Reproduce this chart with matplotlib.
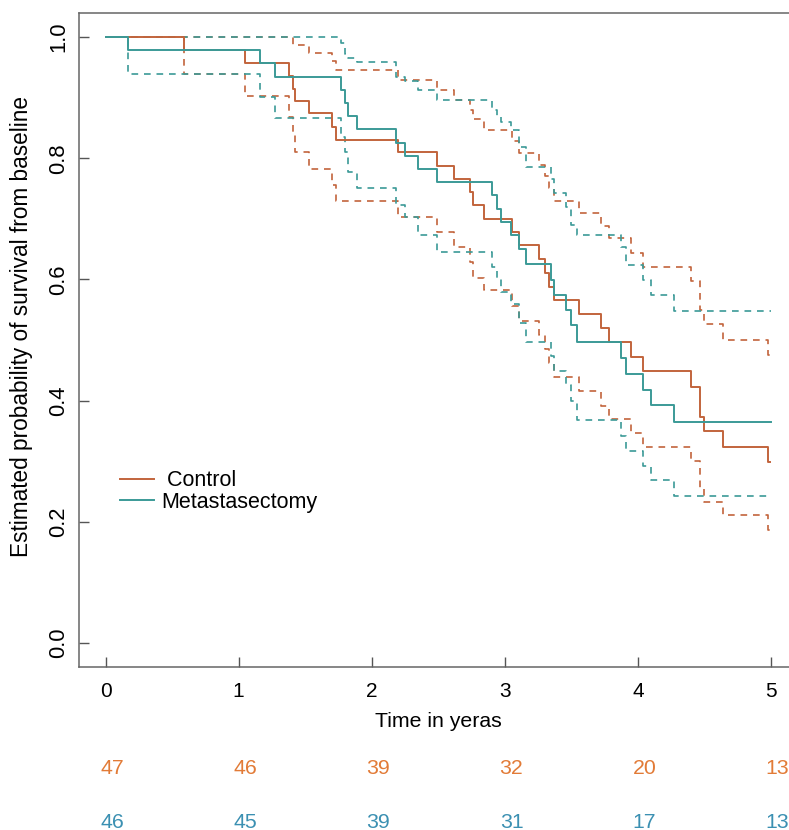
import numpy as np
import matplotlib.pyplot as plt
import matplotlib.transforms as mtransforms

plt.rcParams['font.family'] = ['Liberation Sans', 'DejaVu Sans']

# ---> Kaplan-Meier estimates
ctrl_t = [0, 0.59, 1.045, 1.376, 1.41, 1.42, 1.53, 1.70, 1.73, 2.20, 2.49, 2.62,
          2.74, 2.76, 2.84, 3.055, 3.11, 3.26, 3.30, 3.33, 3.37, 3.56, 3.72, 3.78,
          3.95, 4.04, 4.40, 4.47, 4.50, 4.64, 4.98, 4.995]
ctrl_s = [1.0, 0.979, 0.958, 0.936, 0.915, 0.895, 0.874, 0.852, 0.831, 0.810, 0.788, 0.766,
          0.744, 0.723, 0.700, 0.679, 0.656, 0.634, 0.610, 0.588, 0.566, 0.543, 0.519, 0.496,
          0.472, 0.449, 0.423, 0.373, 0.350, 0.324, 0.298, 0.298]
ctrl_lo = [1.0, 0.939, 0.903, 0.868, 0.840, 0.811, 0.783, 0.756, 0.729, 0.703, 0.679, 0.653,
           0.628, 0.603, 0.582, 0.556, 0.532, 0.508, 0.485, 0.462, 0.439, 0.416, 0.391, 0.369,
           0.346, 0.323, 0.300, 0.256, 0.232, 0.211, 0.186, 0.186]
ctrl_hi = [1.0, 1.0, 1.0, 1.0, 0.987, 0.987, 0.974, 0.960, 0.946, 0.930, 0.913, 0.896,
           0.880, 0.865, 0.847, 0.828, 0.809, 0.789, 0.770, 0.751, 0.730, 0.710, 0.688, 0.668,
           0.644, 0.621, 0.598, 0.550, 0.526, 0.500, 0.475, 0.475]

meta_t = [0, 0.17, 1.16, 1.27, 1.77, 1.80, 1.82, 1.89, 2.185, 2.25, 2.35, 2.49,
          2.90, 2.94, 2.97, 3.05, 3.11, 3.16, 3.35, 3.37, 3.46, 3.50, 3.54, 3.87,
          3.91, 4.04, 4.10, 4.27, 5.0]
meta_s = [1.0, 0.978, 0.957, 0.935, 0.913, 0.891, 0.870, 0.848, 0.826, 0.804, 0.783, 0.761,
          0.739, 0.717, 0.695, 0.673, 0.651, 0.625, 0.599, 0.574, 0.549, 0.524, 0.497, 0.470,
          0.444, 0.418, 0.392, 0.365, 0.365]
meta_lo = [1.0, 0.939, 0.901, 0.867, 0.835, 0.811, 0.778, 0.751, 0.723, 0.703, 0.673, 0.646,
           0.621, 0.600, 0.580, 0.560, 0.528, 0.497, 0.473, 0.448, 0.426, 0.400, 0.368, 0.342,
           0.317, 0.292, 0.268, 0.243, 0.243]
meta_hi = [1.0, 1.0, 1.0, 1.0, 0.990, 0.973, 0.965, 0.959, 0.935, 0.928, 0.913, 0.896,
           0.880, 0.868, 0.860, 0.847, 0.819, 0.786, 0.765, 0.743, 0.720, 0.690, 0.673, 0.653,
           0.624, 0.599, 0.574, 0.548, 0.548]

risk_times = [0, 1, 2, 3, 4, 5]
ctrl_risk = [47, 46, 39, 32, 20, 13]
meta_risk = [46, 45, 39, 31, 17, 13]

c_ctrl = '#c2643c'
c_meta = '#3b9a97'
c_ctrl_txt = '#e27b37'
c_meta_txt = '#3b90b2'

fig = plt.figure(figsize=(7.89, 8.3), dpi=100)
ax = fig.add_axes([0.1001, 0.1964, 0.9108, 0.788])

for t, s, lo, hi, c in [(ctrl_t, ctrl_s, ctrl_lo, ctrl_hi, c_ctrl),
                        (meta_t, meta_s, meta_lo, meta_hi, c_meta)]:
    ax.step(t, lo, where='post', color=c, lw=1.2, ls=(0, (4, 3.5)))
    ax.step(t, hi, where='post', color=c, lw=1.2, ls=(0, (4, 3.5)))

ax.step(ctrl_t, ctrl_s, where='post', color=c_ctrl, lw=1.4, label=' Control')
ax.step(meta_t, meta_s, where='post', color=c_meta, lw=1.4, label='Metastasectomy')

ax.set_xlim(-0.2, 5.2)
ax.set_ylim(-0.04, 1.04)
ax.set_xticks(risk_times)
ax.set_yticks([0.0, 0.2, 0.4, 0.6, 0.8, 1.0])
ax.set_yticklabels(['0.0', '0.2', '0.4', '0.6', '0.8', '1.0'])
ax.tick_params(direction='in', length=7, width=1, color='#555555', labelsize=15)
ax.tick_params(axis='x', pad=11)
ax.tick_params(axis='y', labelrotation=90, pad=7, labelsize=15.8)
for lab in ax.get_yticklabels():
    lab.set_va('center')
for sp in ax.spines.values():
    sp.set_color('#666666')
    sp.set_linewidth(1.1)

ax.set_xlabel('Time in yeras', fontsize=15.3, labelpad=8)
ax.set_ylabel('Estimated probability of survival from baseline', fontsize=16.3)
ax.yaxis.set_label_coords(-0.064, 0.521)

ax.legend(loc='upper left', bbox_to_anchor=(0.057, 0.301), frameon=False,
          fontsize=15.5, handlelength=1.6, handletextpad=0.3, labelspacing=0.02,
          borderpad=0, borderaxespad=0)

trans = mtransforms.blended_transform_factory(ax.transData, fig.transFigure)
for x, a, b in zip(risk_times, ctrl_risk, meta_risk):
    ax.text(x + 0.05, 1 - 768 / 830, str(a), color=c_ctrl_txt, fontsize=15.3,
            ha='center', va='center', transform=trans, clip_on=False)
    ax.text(x + 0.05, 1 - 822 / 830, str(b), color=c_meta_txt, fontsize=15.3,
            ha='center', va='center', transform=trans, clip_on=False)

fig.savefig('out.png', dpi=100)
